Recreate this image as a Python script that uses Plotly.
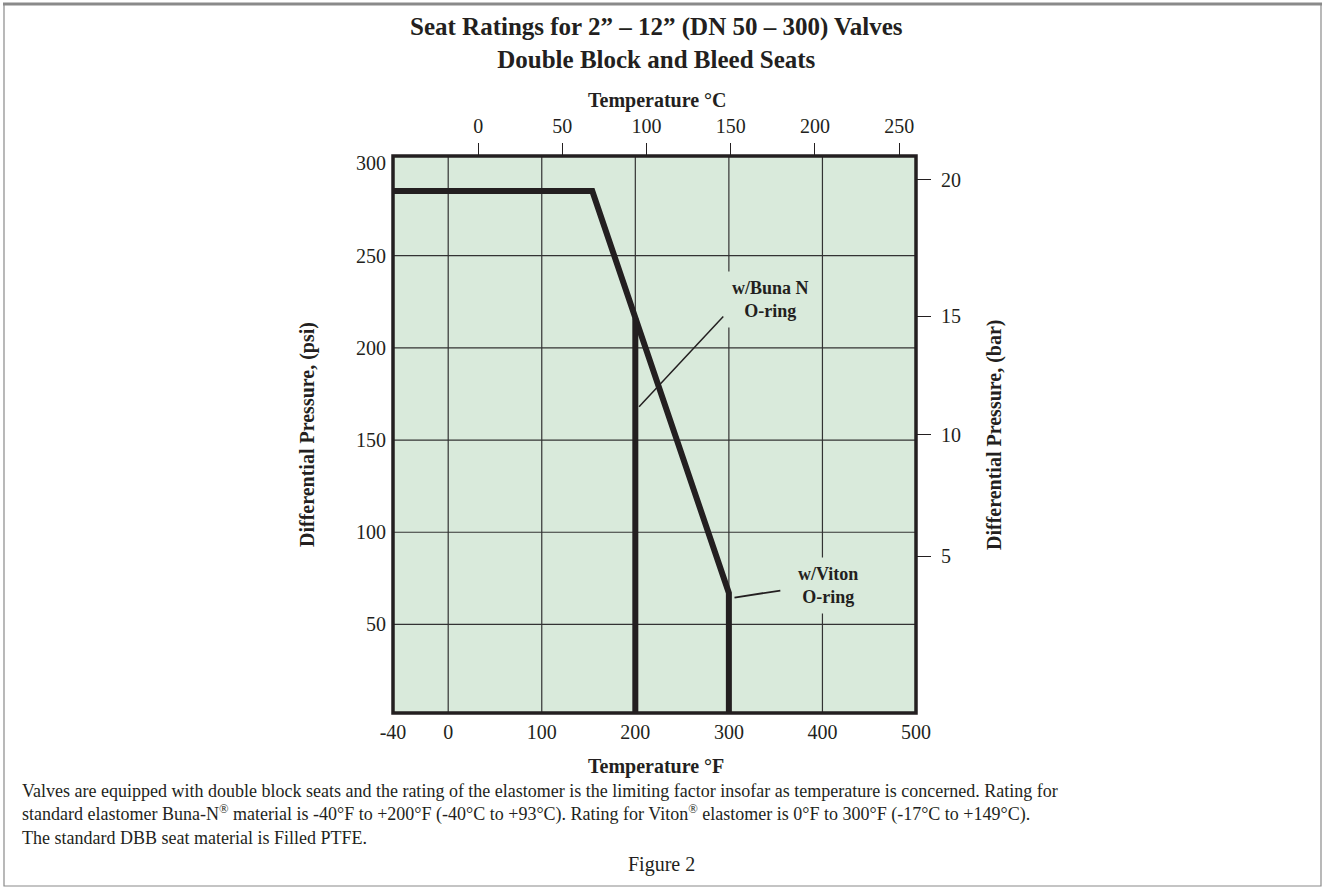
import plotly.graph_objects as go

# ---------------- data ----------------
# Temperature (°F) / pressure (psi) rating envelope
VITON_X = [-59, 154, 300, 300]      # starts at the chart's left edge (labelled -40)
VITON_Y = [285, 285, 67, 0]
BUNA_X = [200, 200]
BUNA_Y = [216, 0]

# leader lines for the labels (°F, psi)
BUNA_LEADER_X = [294, 204]
BUNA_LEADER_Y = [217, 168]
VITON_LEADER_X = [355, 306]
VITON_LEADER_Y = [68.4, 64.6]

# label anchor points (°F, psi)
BUNA_LABEL = (344, 226)
VITON_LABEL = (406, 71)

# axes
X_RANGE = [-59, 500]
Y_RANGE = [2, 304]
F_TICK_POS = [-59, 0, 100, 200, 300, 400, 500]
F_TICK_TEXT = ["-40", "0", "100", "200", "300", "400", "500"]
C_TICKS = [0, 50, 100, 150, 200, 250]
PSI_TICKS = [50, 100, 150, 200, 250, 300]
BAR_TICK_POS = [87, 153, 217, 291]          # psi positions where the bar ticks are drawn
BAR_TICK_TEXT = ["5", "10", "15", "20"]
X_GRID = [0, 100, 200, 300, 400]
Y_GRID = [50, 100, 150, 200, 250]

TITLE_1 = "Seat Ratings for 2” – 12” (DN 50 – 300) Valves"
TITLE_2 = "Double Block and Bleed Seats"
CAPTION = [
    "Valves are equipped with double block seats and the rating of the elastomer is the limiting factor insofar as temperature is concerned. Rating for",
    "standard elastomer Buna-N<sup>®</sup> material is -40°F to +200°F (-40°C to +93°C). Rating for Viton<sup>®</sup> elastomer is 0°F to 300°F (-17°C to +149°C).",
    "The standard DBB seat material is Filled PTFE.",
]

# ---------------- style ----------------
INK = "#231f20"
PLOT_BG = "#d9eadb"
FONT = "Liberation Serif"
W, H = 1325, 890
L, R, T, B = 393, 916, 156, 713   # plot area in pixels


def px(xp):
    return (xp - L) / (R - L)


def py(yp):
    return (B - yp) / (B - T)


fig = go.Figure()
fig.add_trace(go.Scatter(x=VITON_X, y=VITON_Y, mode="lines",
                         line=dict(color=INK, width=6), hoverinfo="skip", showlegend=False))
fig.add_trace(go.Scatter(x=BUNA_X, y=BUNA_Y, mode="lines",
                         line=dict(color=INK, width=6), hoverinfo="skip", showlegend=False))
# trace to register secondary axes
fig.add_trace(go.Scatter(x=[None], y=[None], xaxis="x2", yaxis="y2", mode="lines",
                         hoverinfo="skip", showlegend=False))

shapes = []
for v in X_GRID:
    shapes.append(dict(type="line", xref="x", yref="y", x0=v, x1=v, y0=Y_RANGE[0], y1=Y_RANGE[1],
                       line=dict(color="#333333", width=1.2), layer="below"))
for h in Y_GRID:
    shapes.append(dict(type="line", xref="x", yref="y", x0=X_RANGE[0], x1=X_RANGE[1], y0=h, y1=h,
                       line=dict(color="#333333", width=1.2), layer="below"))
shapes.append(dict(type="line", xref="x", yref="y", x0=BUNA_LEADER_X[0], x1=BUNA_LEADER_X[1],
                   y0=BUNA_LEADER_Y[0], y1=BUNA_LEADER_Y[1], line=dict(color=INK, width=1.5)))
shapes.append(dict(type="line", xref="x", yref="y", x0=VITON_LEADER_X[0], x1=VITON_LEADER_X[1],
                   y0=VITON_LEADER_Y[0], y1=VITON_LEADER_Y[1], line=dict(color=INK, width=1.8)))
# plot border
shapes.append(dict(type="rect", xref="paper", yref="paper", x0=0, x1=1, y0=0, y1=1,
                   line=dict(color=INK, width=3.5), layer="above"))
# outer frame
shapes.append(dict(type="rect", xref="paper", yref="paper", x0=px(4), x1=px(1321), y0=py(886), y1=py(4),
                   line=dict(color="#8a8a8a", width=1.2), layer="above"))
shapes.append(dict(type="line", xref="paper", yref="paper", x0=px(3), x1=px(1322), y0=py(4), y1=py(4),
                   line=dict(color="#8a8a8a", width=3), layer="above"))

ann = []
ann.append(dict(text=f"<b>{TITLE_1}</b><br><b>{TITLE_2}</b>", x=px(656), y=py(43), xref="paper", yref="paper",
                showarrow=False, font=dict(size=25, family=FONT, color=INK), xanchor="center", yanchor="middle"))
ann.append(dict(text="<b>Temperature °C</b>", x=px(657), y=py(100), xref="paper", yref="paper",
                showarrow=False, font=dict(size=20, family=FONT, color=INK), xanchor="center", yanchor="middle"))
ann.append(dict(text="<b>Temperature °F</b>", x=px(656), y=py(766), xref="paper", yref="paper",
                showarrow=False, font=dict(size=20, family=FONT, color=INK), xanchor="center", yanchor="middle"))
ann.append(dict(text="<b>Differential Pressure, (psi)</b>", x=px(307), y=py(435), xref="paper", yref="paper",
                showarrow=False, textangle=-90, font=dict(size=20, family=FONT, color=INK),
                xanchor="center", yanchor="middle"))
ann.append(dict(text="<b>Differential Pressure, (bar)</b>", x=px(994), y=py(435), xref="paper", yref="paper",
                showarrow=False, textangle=-90, font=dict(size=20, family=FONT, color=INK),
                xanchor="center", yanchor="middle"))
ann.append(dict(text="<b>w/Buna N<br>O-ring</b>", x=BUNA_LABEL[0], y=BUNA_LABEL[1], xref="x", yref="y",
                showarrow=False, font=dict(size=18, family=FONT, color=INK), bgcolor=PLOT_BG, borderpad=6,
                xanchor="center", yanchor="middle"))
ann.append(dict(text="<b>w/Viton<br>O-ring</b>", x=VITON_LABEL[0], y=VITON_LABEL[1], xref="x", yref="y",
                showarrow=False, font=dict(size=18, family=FONT, color=INK), bgcolor=PLOT_BG, borderpad=6,
                xanchor="center", yanchor="middle"))
ann.append(dict(text="<br>".join(CAPTION), x=px(20), y=py(814), xref="paper", yref="paper",
                showarrow=False, font=dict(size=18, family=FONT, color=INK),
                xanchor="left", yanchor="middle", align="left"))
ann.append(dict(text="Figure 2", x=px(661), y=py(864), xref="paper", yref="paper",
                showarrow=False, font=dict(size=20, family=FONT, color=INK), xanchor="center", yanchor="middle"))

tickfont = dict(size=20, family=FONT, color=INK)
fig.update_layout(
    width=W, height=H,
    margin=dict(l=L, r=W - R, t=T, b=H - B, pad=0),
    paper_bgcolor="white", plot_bgcolor=PLOT_BG,
    showlegend=False,
    shapes=shapes, annotations=ann,
    xaxis=dict(range=X_RANGE, tickmode="array", tickvals=F_TICK_POS, ticktext=F_TICK_TEXT,
               showgrid=False, zeroline=False, showline=False, ticks="", tickfont=tickfont,
               ticklabelstandoff=5),
    yaxis=dict(range=Y_RANGE, tickmode="array", tickvals=PSI_TICKS,
               showgrid=False, zeroline=False, showline=False, ticks="", tickfont=tickfont,
               ticklabelstandoff=6),
    xaxis2=dict(range=[(X_RANGE[0] - 32) / 1.8, (X_RANGE[1] - 32) / 1.8], overlaying="x", side="top",
                anchor="y2", tickmode="array", tickvals=C_TICKS, showgrid=False, zeroline=False,
                showline=False, ticks="outside", ticklen=12, tickwidth=1.2, tickcolor=INK,
                tickfont=tickfont, ticklabelstandoff=2),
    yaxis2=dict(range=Y_RANGE, overlaying="y", side="right", anchor="x2", tickmode="array",
                tickvals=BAR_TICK_POS, ticktext=BAR_TICK_TEXT, showgrid=False, zeroline=False,
                showline=False, ticks="outside", ticklen=14, tickwidth=1.2, tickcolor=INK,
                tickfont=tickfont, ticklabelstandoff=6),
)

fig.write_html("out.html", config={"displayModeBar": False},
               post_script="document.body.style.margin='0';document.body.style.overflow='hidden';")
